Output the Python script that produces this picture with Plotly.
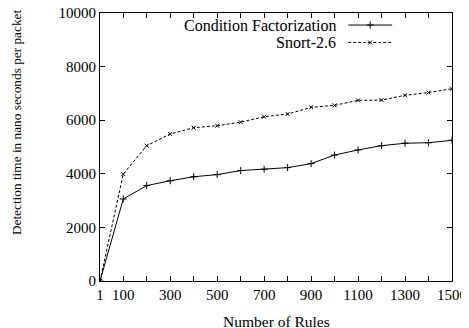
import plotly.graph_objects as go

rules = [1, 100, 200, 300, 400, 500, 600, 700, 800, 900, 1000, 1100, 1200, 1300, 1400, 1500]
cond_fact = [0, 3060, 3560, 3740, 3890, 3970, 4120, 4170, 4230, 4380, 4700, 4890, 5050, 5140, 5160, 5250]
snort = [0, 3990, 5050, 5485, 5720, 5795, 5925, 6130, 6230, 6480, 6555, 6740, 6750, 6930, 7030, 7175]
series_names = ["Condition Factorization", "Snort-2.6"]
x_tickvals = [1, 100, 200, 300, 400, 500, 600, 700, 800, 900, 1000, 1100, 1200, 1300, 1400, 1500]
x_ticktext = ["1", "100", "", "300", "", "500", "", "700", "", "900", "", "1100", "", "1300", "", "1500"]
y_tickvals = [0, 2000, 4000, 6000, 8000, 10000]
y_ticktext = ["0", "2000", "4000", "6000", "8000", "10000"]
x_title = "Number of Rules"
y_title = "Detection time in nano seconds per packet"

FONT = "Liberation Serif, Times New Roman, serif"
fig = go.Figure()
fig.add_trace(go.Scatter(x=rules, y=cond_fact, mode="lines+markers", name=series_names[0],
                         line=dict(color="black", width=1),
                         marker=dict(symbol="cross-thin", size=5, line=dict(color="black", width=1)),
                         showlegend=False))
fig.add_trace(go.Scatter(x=rules, y=snort, mode="lines+markers", name=series_names[1],
                         line=dict(color="black", width=1, dash="3px,2px"),
                         marker=dict(symbol="x-thin", size=4, line=dict(color="black", width=1)),
                         showlegend=False))

# legend samples on a hidden overlay axis
leg_x = [0.705, 0.83]
fig.add_trace(go.Scatter(x=leg_x, y=[0.955, 0.955], xaxis="x2", yaxis="y2", mode="lines",
                         line=dict(color="black", width=1), showlegend=False, hoverinfo="skip"))
fig.add_trace(go.Scatter(x=[sum(leg_x) / 2], y=[0.955], xaxis="x2", yaxis="y2", mode="markers",
                         marker=dict(symbol="cross-thin", size=5, line=dict(color="black", width=1)),
                         showlegend=False, hoverinfo="skip"))
fig.add_trace(go.Scatter(x=leg_x, y=[0.89, 0.89], xaxis="x2", yaxis="y2", mode="lines",
                         line=dict(color="black", width=1, dash="3px,2px"), showlegend=False, hoverinfo="skip"))
fig.add_trace(go.Scatter(x=[sum(leg_x) / 2], y=[0.89], xaxis="x2", yaxis="y2", mode="markers",
                         marker=dict(symbol="x-thin", size=4, line=dict(color="black", width=1)),
                         showlegend=False, hoverinfo="skip"))
fig.add_annotation(x=0.675, y=0.955, xref="x2", yref="y2", text=series_names[0], showarrow=False,
                   xanchor="right", yanchor="middle", font=dict(family=FONT, size=16, color="black"))
fig.add_annotation(x=0.675, y=0.89, xref="x2", yref="y2", text=series_names[1], showarrow=False,
                   xanchor="right", yanchor="middle", font=dict(family=FONT, size=16, color="black"))

# axis titles placed as annotations to match the reference's off-centre positions
fig.add_annotation(x=-0.2386, y=0.593, xref="paper", yref="paper", text=y_title, textangle=-90,
                   showarrow=False, xanchor="center", yanchor="middle",
                   font=dict(family=FONT, size=13.3, color="black"))
fig.add_annotation(x=0.5, y=-0.15, xref="paper", yref="paper", text=x_title,
                   showarrow=False, xanchor="center", yanchor="middle",
                   font=dict(family=FONT, size=15.5, color="black"))

# the page body adds an 8px margin, so the figure is sized to fit inside it
fig.update_layout(
    width=461, height=320,
    margin=dict(l=92, r=17, t=5, b=47),
    paper_bgcolor="white", plot_bgcolor="white",
    font=dict(family=FONT, size=15, color="black"),
    xaxis=dict(range=[1, 1500], tickvals=x_tickvals, ticktext=x_ticktext,
               ticks="inside", ticklen=5, tickcolor="black", tickwidth=1,
               showline=True, linecolor="black", linewidth=1, mirror="ticks",
               showgrid=False, zeroline=False, automargin=False,
               ticklabeloverflow="allow",
               tickfont=dict(family=FONT, size=15)),
    yaxis=dict(range=[0, 10000], tickvals=y_tickvals, ticktext=y_ticktext,
               ticks="inside", ticklen=5, tickcolor="black", tickwidth=1,
               showline=True, linecolor="black", linewidth=1, mirror="ticks",
               showgrid=False, zeroline=False, automargin=False,
               ticklabeloverflow="allow",
               tickfont=dict(family=FONT, size=15)),
    xaxis2=dict(range=[0, 1], overlaying="x", visible=False, fixedrange=True),
    yaxis2=dict(range=[0, 1], overlaying="y", visible=False, fixedrange=True),
)
fig.write_html("out.html")
